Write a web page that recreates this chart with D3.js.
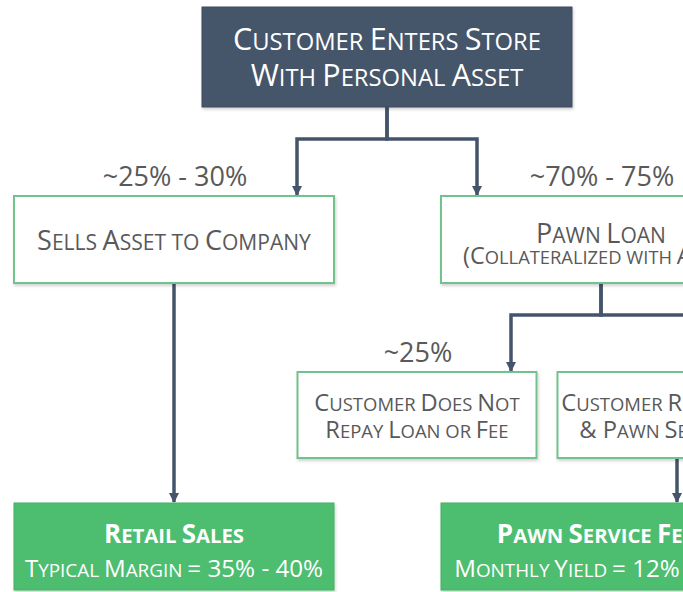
<!DOCTYPE html>
<html>
<head>
<meta charset="utf-8">
<script src="https://cdn.jsdelivr.net/npm/d3@7"></script>
<style>
  body { margin: 0; background: #fff; }
  svg { display: block; font-family: "Open Sans", "Noto Sans", sans-serif; }
</style>
</head>
<body>
<div id="chart"></div>
<script>
// flowchart content
const nodeIds = ['enter', 'sell', 'pawn', 'default', 'repay', 'retail', 'fees'];
const nodeLine1 = ['Customer Enters Store', 'Sells Asset to Company', 'Pawn Loan', 'Customer Does Not', 'Customer Repays Loan', 'Retail Sales', 'Pawn Service Fees'];
const nodeLine2 = ['With Personal Asset', '', '(Collateralized with Asset)', 'Repay Loan or Fee', '& Pawn Service Fee', 'Typical Margin = 35% - 40%', 'Monthly Yield = 12% - 20%'];
const nodeLevel = [0, 1, 1, 2, 2, 3, 3];
const nodeKind = ['start', 'step', 'step', 'step', 'step', 'result', 'result'];

const edgeSource = ['enter', 'enter', 'sell', 'pawn', 'pawn', 'repay'];
const edgeTarget = ['sell', 'pawn', 'retail', 'default', 'repay', 'fees'];
const edgeLabel = ['~25% - 30%', '~70% - 75%', '', '~25%', '', ''];

const w = 683;
const h = 592;
const dark = '#44546a';
const green = '#4dbd6f';
const greenLine = '#72c28d';
const grey = '#595959';

// layout
const colX = d3.scaleOrdinal()
  .domain(nodeIds)
  .range([387, 174, 601, 417, 677, 174, 601]);
const levelTop = d3.scaleOrdinal().domain([0, 1, 2, 3]).range([7, 196, 372, 503]);
const levelH = d3.scaleOrdinal().domain([0, 1, 2, 3]).range([100, 87, 86, 87]);
const levelW = d3.scaleOrdinal().domain([0, 1, 2, 3]).range([370, 320, 239, 320]);
const branch = 90; // spread of the two arrows under a split

const nodes = nodeIds.map((id, i) => {
  const lv = nodeLevel[i];
  return {
    id, l1: nodeLine1[i], l2: nodeLine2[i], kind: nodeKind[i],
    cx: colX(id), y: levelTop(lv), w: levelW(lv), h: levelH(lv)
  };
});
const byId = new Map(nodes.map(d => [d.id, d]));
const edges = edgeSource.map((s, i) => ({ s: byId.get(s), t: byId.get(edgeTarget[i]), label: edgeLabel[i] }));

const svg = d3.select('#chart')
  .append('svg')
  .attr('width', w)
  .attr('height', h);

const defs = svg.append('defs');
defs.append('marker')
  .attr('id', 'arrow')
  .attr('viewBox', '0 0 10 10')
  .attr('refX', 9)
  .attr('refY', 5)
  .attr('markerWidth', 3)
  .attr('markerHeight', 3)
  .attr('markerUnits', 'strokeWidth')
  .attr('orient', 'auto')
  .append('path')
  .attr('d', 'M0,0L10,5L0,10z')
  .attr('fill', dark);

const shadow = defs.append('filter').attr('id', 'shadow')
  .attr('x', '-10%').attr('y', '-10%').attr('width', '120%').attr('height', '130%');
shadow.append('feDropShadow')
  .attr('dx', 1).attr('dy', 2).attr('stdDeviation', 1.5)
  .attr('flood-color', '#000').attr('flood-opacity', 0.18);

// connectors
const siblings = d3.group(edges, d => d.s.id);
svg.append('g').selectAll('path')
  .data(edges)
  .enter()
  .append('path')
  .attr('fill', 'none')
  .attr('stroke', dark)
  .attr('stroke-width', 3.5)
  .attr('marker-end', 'url(#arrow)')
  .attr('d', d => {
    const y0 = d.s.y + d.s.h;
    const y1 = d.t.y - 1;
    const sib = siblings.get(d.s.id);
    if (sib.length > 1) {
      const my = y0 + 32;
      const x1 = d.s.cx + (sib.indexOf(d) === 0 ? -branch : branch);
      return `M${d.s.cx},${y0}V${my}H${x1}V${y1}`;
    }
    return `M${d.s.cx},${y0}V${y1}`;
  });

// percentage labels
svg.append('g').selectAll('text')
  .data(edges.filter(d => d.label))
  .enter()
  .append('text')
  .attr('x', d => d.t.cx + 1)
  .attr('y', d => d.t.y - 10)
  .attr('text-anchor', 'middle')
  .attr('font-size', 27)
  .attr('fill', grey)
  .text(d => d.label);

// boxes
const g = svg.append('g').selectAll('g')
  .data(nodes)
  .enter()
  .append('g');

g.append('rect')
  .attr('x', d => d.cx - d.w / 2)
  .attr('y', d => d.y)
  .attr('width', d => d.w)
  .attr('height', d => d.h)
  .attr('fill', d => d.kind === 'start' ? dark : d.kind === 'result' ? green : '#fff')
  .attr('stroke', d => d.kind === 'start' ? '#3e4d61' : d.kind === 'result' ? '#45b065' : greenLine)
  .attr('stroke-width', d => d.kind === 'step' ? 2 : 1)
  .attr('filter', 'url(#shadow)');

// hand-made small caps: capitals at full size, lower case raised to capitals at a smaller size
function smallCaps(text, str, size, ratio) {
  const runs = [];
  for (const ch of str) {
    const small = ch >= 'a' && ch <= 'z';
    const last = runs[runs.length - 1];
    if (last && (last.small === small || ch === ' ')) last.s += ch;
    else runs.push({ small, s: ch });
  }
  text.selectAll('tspan')
    .data(runs)
    .enter()
    .append('tspan')
    .attr('font-size', d => d.small ? size * ratio : size)
    .text(d => d.small ? d.s.toUpperCase() : d.s);
}

const textSpec = {
  enter: { f: [30.5, 30.5], b: [43, 79] },
  sell: { f: [27], b: [54] },
  pawn: { f: [27, 23.5], b: [47, 68] },
  default: { f: [23.7, 23.7], b: [39, 66] },
  repay: { f: [23.7, 23.7], b: [39, 66] },
  retail: { f: [26, 24.2], b: [40, 74], bold: true },
  fees: { f: [26, 24.2], b: [40, 74], bold: true }
};

g.each(function (d) {
  const sel = d3.select(this);
  const s = textSpec[d.id];
  const col = d.kind === 'step' ? grey : '#fff';
  [d.l1, d.l2].forEach((line, k) => {
    if (!line) return;
    const t = sel.append('text')
      .attr('x', d.cx)
      .attr('y', d.y + s.b[k])
      .attr('text-anchor', 'middle')
      .attr('font-weight', s.bold && k === 0 ? 700 : 400)
      .attr('fill', col);
    smallCaps(t, line, s.f[k], 0.78);
  });
});
</script>
</body>
</html>
